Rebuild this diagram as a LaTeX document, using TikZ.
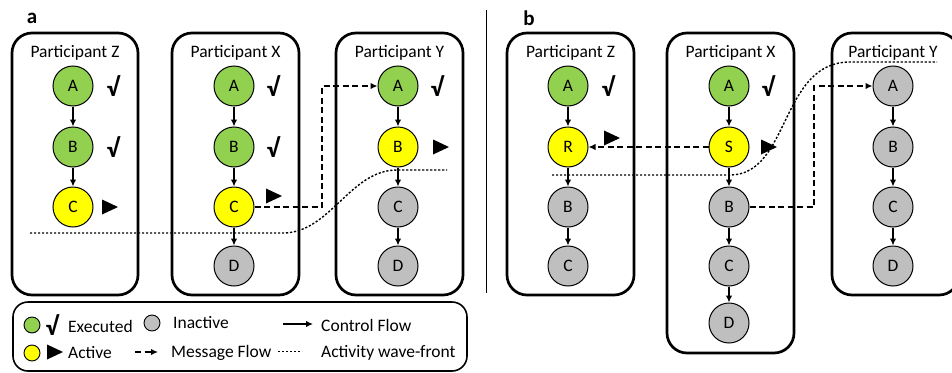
\documentclass[tikz,border=0pt]{standalone}
\usepackage{fontspec}
\setmainfont{Carlito}
\usetikzlibrary{arrows.meta}
\definecolor{exgreen}{HTML}{92D050}
\definecolor{acyellow}{HTML}{FFFF00}
\definecolor{ingray}{HTML}{BFBFBF}
\tikzset{
  stnode/.style={circle,draw=black,line width=1pt,minimum size=40pt,inner sep=0pt,font=\fontsize{17.5}{19}\selectfont},
  exnode/.style={stnode,fill=exgreen},
  acnode/.style={stnode,fill=acyellow},
  innode/.style={stnode,fill=ingray},
  partbox/.style={draw=black,line width=2.7pt,rounded corners=20pt},
  ptitle/.style={font=\fontsize{17.5}{19}\selectfont,inner sep=0pt},
  ctrl/.style={line width=1.3pt,-{Latex[length=7pt,width=6.5pt]}},
  msg/.style={line width=1.4pt,dash pattern=on 6pt off 3.5pt,-{Latex[length=7pt,width=6.5pt]}},
  wave/.style={line width=1.4pt,dash pattern=on 2.2pt off 1.8pt},
  chk/.style={font=\fontsize{26}{26}\selectfont\bfseries,inner sep=0pt},
  leg/.style={font=\fontsize{17.5}{19}\selectfont,inner sep=0pt,anchor=west},
  panlbl/.style={font=\fontsize{21}{21}\selectfont\bfseries,inner sep=0pt}
}
\newcommand{\playtri}[2]{\fill[black] (#1,#2-7.5) -- (#1+16,#2) -- (#1,#2+7.5) -- cycle;}
\begin{document}
\begin{tikzpicture}[x=1pt,y=-1pt]
\useasboundingbox (0,0) rectangle (952,372);
% panel labels
\node[panlbl] (la) at (32,18) {a};
\node[panlbl] (lb) at (529,18) {b};
\draw[line width=1pt] (486,10) -- (486,293);
% ---------------- panel a ----------------
\draw[partbox] (12,33) rectangle (138,295);
\draw[partbox] (172,33) rectangle (299,295);
\draw[partbox] (336,33) rectangle (463,295);
\node[ptitle] (taz) at (75,53) {Participant Z};
\node[ptitle] (tax) at (235.5,53) {Participant X};
\node[ptitle] (tay) at (399.5,53) {Participant Y};
% Z
\node[exnode] (az) at (73,86) {A};
\node[exnode] (bz) at (73,147) {B};
\node[acnode] (cz) at (73,207) {C};
% X
\node[exnode] (ax) at (234,86) {A};
\node[exnode] (bx) at (234,147) {B};
\node[acnode] (cx) at (234,207) {C};
\node[innode] (dx) at (234,266) {D};
% Y
\node[exnode] (ay) at (398,86) {A};
\node[acnode] (by) at (398,147) {B};
\node[innode] (cy) at (398,207) {C};
\node[innode] (dy) at (398,266) {D};
\draw[ctrl] (az) -- (bz); \draw[ctrl] (bz) -- (cz);
\draw[ctrl] (ax) -- (bx); \draw[ctrl] (bx) -- (cx); \draw[ctrl] (cx) -- (dx);
\draw[ctrl] (ay) -- (by); \draw[ctrl] (by) -- (cy); \draw[ctrl] (cy) -- (dy);
\node[chk] (k1) at (113,86) {√};
\node[chk] (k2) at (113,147) {√};
\node[chk] (k3) at (273,86) {√};
\node[chk] (k4) at (273,147) {√};
\node[chk] (k5) at (437,86) {√};
\playtri{102}{207}
\playtri{266}{196}
\playtri{433}{147}
\coordinate (mab) at (322,86);
\draw[msg] (cx.east) -| (mab) -- (ay.west);
\draw[wave] (30,233) -- (283,233) .. controls (330,233) and (350,170) .. (397,170) -- (447,170);
% ---------------- panel b ----------------
\draw[partbox] (507,33) rectangle (634,295);
\draw[partbox] (667,33) rectangle (794,353);
\draw[partbox] (832,33) rectangle (959,295);
\node[ptitle] (tbz) at (570.5,53) {Participant Z};
\node[ptitle] (tbx) at (730.5,53) {Participant X};
\node[ptitle] (tby) at (893,53) {Participant Y};
% Z
\node[exnode] (baz) at (568,86) {A};
\node[acnode] (brz) at (568,147) {R};
\node[innode] (bbz) at (568,207) {B};
\node[innode] (bcz) at (568,266) {C};
% X
\node[exnode] (bax) at (729,86) {A};
\node[acnode] (bsx) at (729,147) {S};
\node[innode] (bbx) at (729,207) {B};
\node[innode] (bcx) at (729,266) {C};
\node[innode] (bdx) at (729,323) {D};
% Y
\node[innode] (bay) at (893,86) {A};
\node[innode] (bby) at (893,147) {B};
\node[innode] (bcy) at (893,207) {C};
\node[innode] (bdy) at (893,266) {D};
\draw[ctrl] (baz) -- (brz); \draw[ctrl] (brz) -- (bbz); \draw[ctrl] (bbz) -- (bcz);
\draw[ctrl] (bax) -- (bsx); \draw[ctrl] (bsx) -- (bbx); \draw[ctrl] (bbx) -- (bcx); \draw[ctrl] (bcx) -- (bdx);
\draw[ctrl] (bay) -- (bby); \draw[ctrl] (bby) -- (bcy); \draw[ctrl] (bcy) -- (bdy);
\node[chk] (k6) at (608,86) {√};
\node[chk] (k7) at (768,86) {√};
\playtri{604}{138}
\playtri{761}{147}
\draw[msg] (bsx.west) -- (brz.east);
\coordinate (mbb) at (814,86);
\draw[msg] (bbx.east) -| (mbb) -- (bay.west);
\draw[wave] (552,175) -- (730,175) .. controls (790,175) and (780,62) .. (850,62) -- (937,62);
% ---------------- legend ----------------
\draw[line width=1.6pt,rounded corners=15pt] (13,302) rectangle (467,371);
\node[circle,draw=black,line width=0.9pt,fill=exgreen,minimum size=16pt,inner sep=0pt] (lg1) at (32,325) {};
\node[chk] (lk) at (52,325) {√};
\node[leg] (lt1) at (68,326) {Executed};
\node[circle,draw=black,line width=0.9pt,fill=ingray,minimum size=16pt,inner sep=0pt] (lg2) at (152,323) {};
\node[leg] (lt2) at (173,323) {Inactive};
\coordinate (lc1) at (283,324);
\coordinate (lc2) at (313,324);
\draw[ctrl] (lc1) -- (lc2);
\node[leg] (lt3) at (321,325) {Control Flow};
\node[circle,draw=black,line width=0.9pt,fill=acyellow,minimum size=16pt,inner sep=0pt] (lg3) at (32,353) {};
\playtri{47}{352}
\node[leg] (lt4) at (68,353) {Active};
\coordinate (lm1) at (135,352);
\coordinate (lm2) at (158,352);
\draw[msg] (lm1) -- (lm2);
\node[leg] (lt5) at (171,353) {Message Flow};
\coordinate (lw1) at (278,351);
\coordinate (lw2) at (302,351);
\draw[wave,line width=0.9pt] (lw1) -- (lw2);
\node[leg] (lt6) at (321,353) {Activity wave-front};
\end{tikzpicture}
\end{document}
